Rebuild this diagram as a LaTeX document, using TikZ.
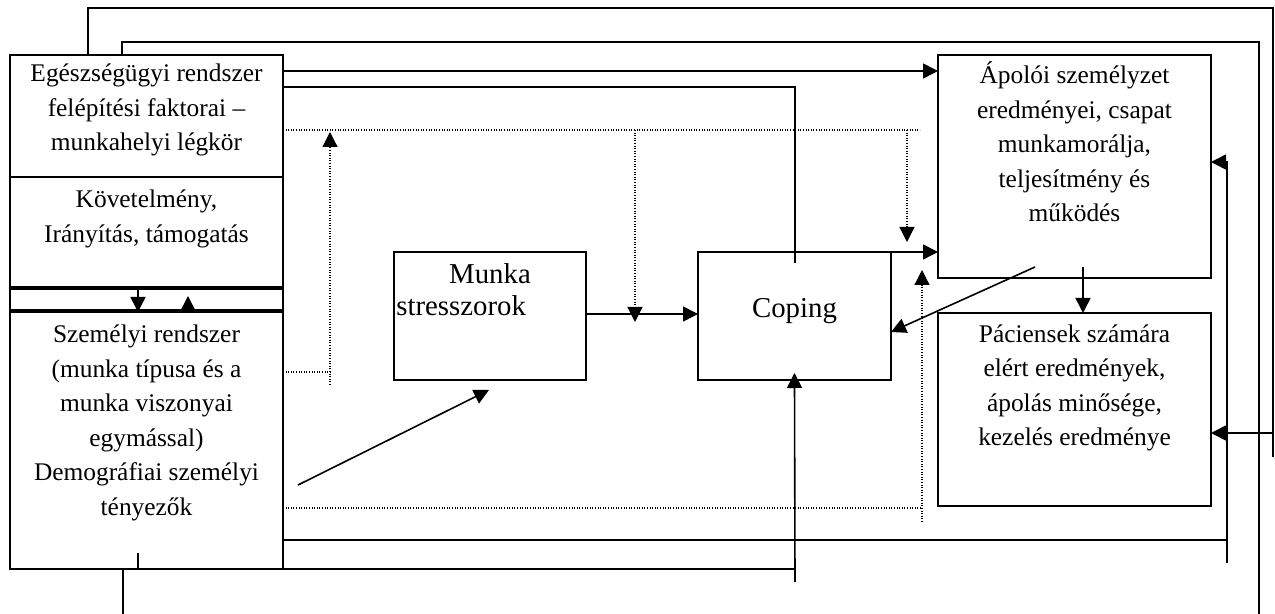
\documentclass[tikz,border=0pt]{standalone}
\usepackage{fontspec}
\setmainfont{Liberation Serif}
\usetikzlibrary{arrows.meta}
\begin{document}
\begin{tikzpicture}[x=0.5pt,y=-0.5pt,
  box/.style={draw, line width=0.8pt, inner sep=0pt, outer sep=0pt},
  txt/.style={align=center, inner sep=0pt, font=\fontsize{12.7}{17.25}\selectfont},
  bigtxt/.style={inner sep=0pt, font=\fontsize{14.4}{17.25}\selectfont},
  conn/.style={line width=0.8pt},
  arr/.style={conn, -{Triangle[length=7.5pt,width=7.5pt]}},
  dot/.style={line width=0.6pt, dash pattern=on 0.5pt off 0.8pt},
  dotarr/.style={dot, -{Triangle[length=7.5pt,width=7.5pt]}},
]
\useasboundingbox (0,0) rectangle (1275,614);
\foreach \y in {8,42,71,87,130,132,162,242,263,267,270,296,314,322,332,372,385,433,457,508,522,540,553,563,582,614}
  \coordinate (h\y) at (0,\y);
\foreach \x in {88,122,123,138,188,330,635,795,907,920,922,1035,1083,1227,1259,1273}
  \coordinate (v\x) at (\x,0);
\coordinate (d1) at (298,485);
\coordinate (d2) at (489,390);

% boxes
\node[box, minimum width=136.5pt, minimum height=61pt] (egs) at (146.5,116) {};
\node[box, minimum width=136.5pt, minimum height=55pt] (kov) at (146.5,232) {};
\node[box, minimum width=136.5pt, minimum height=10.5pt] (strip) at (146.5,299.5) {};
\node[box, minimum width=136.5pt, minimum height=128.5pt] (szem) at (146.5,440.5) {};
\node[box, minimum width=96pt, minimum height=64pt] (munka) at (490,316) {};
\node[box, minimum width=96.5pt, minimum height=64pt] (coping) at (794.5,316) {};
\node[box, minimum width=136.5pt, minimum height=111.5pt] (apol) at (1074.5,166.5) {};
\node[box, minimum width=136.5pt, minimum height=96.5pt] (pac) at (1074.5,409.5) {};

% texts
\node[txt] (tegs) at (146.5,110) {Egészségügyi rendszer\\felépítési faktorai –\\munkahelyi légkör};
\node[txt] (tkov) at (146.5,219) {Követelmény,\\Irányítás, támogatás};
\node[txt] (tszem) at (146.5,423) {Személyi rendszer\\(munka típusa és a\\munka viszonyai\\egymással)\\Demográfiai személyi\\tényezők};
\node[txt] (tapol) at (1074.5,142) {Ápolói személyzet\\eredményei, csapat\\munkamorálja,\\teljesítmény és\\működés};
\node[txt] (tpac) at (1074.5,388) {Páciensek számára\\elért eredmények,\\ápolás minősége,\\kezelés eredménye};
\node[bigtxt] (tcop) at (794.5,311) {Coping};
\node[bigtxt] (tmunka1) at (490,274) {Munka};
\node[bigtxt, anchor=west] (tmunka2) at (396,306) {stresszorok};

% solid connectors
\draw[conn] (egs.north -| v88) -- (v88 |- h8) -- (v1273 |- h8) -- (v1273 |- h457);
\draw[arr] (v1273 |- h433) -- (pac.east |- h433);
\draw[conn] (egs.north -| v122) -- (v122 |- h42) -- (v1259 |- h42) -- (v1259 |- h614);
\draw[conn] (szem.south -| v123) -- (v123 |- h614);
\draw[conn] (szem.east |- h540) -- (v1227 |- h540);
\draw[arr] (v1227 |- h563) -- (v1227 |- h162) -- (apol.east |- h162);
\draw[conn] (v138 |- h553) -- (szem.south -| v138) -- (v795 |- szem.south);
\draw[arr, shorten >=-3.5pt] (v795 |- h582) -- (coping.south);
\draw[arr] (egs.east |- h71) -- (apol.west |- h71);
\draw[conn] (egs.east |- h87) -- (v795 |- h87) -- (v795 |- h263);
\draw[arr] (munka.east |- h314) -- (coping.west |- h314);
\draw[arr] (coping.north east) -- (apol.west |- coping.north east);
\draw[arr] (v1035 |- h267) -- (coping.east |- h332);
\draw[arr] (v1083 |- h267) -- (pac.north -| v1083);
\draw[arr] (d1) -- (d2);
\draw[arr] (v138 |- strip.north) -- (szem.north -| v138);
\draw[arr] (v188 |- szem.north) -- (v188 |- h296);

% dotted connectors
\draw[dot] (egs.east |- h130) -- (v920 |- h130);
\draw[dotarr] (v635 |- h130) -- (v635 |- h322);
\draw[dotarr] (v907 |- h130) -- (v907 |- h242);
\draw[dot] (szem.east |- h372) -- (v330 |- h372);
\draw[dotarr] (v330 |- h385) -- (v330 |- h132);
\draw[dot] (szem.east |- h508) -- (v922 |- h508);
\draw[dotarr] (v922 |- h522) -- (v922 |- h270);
\end{tikzpicture}
\end{document}
